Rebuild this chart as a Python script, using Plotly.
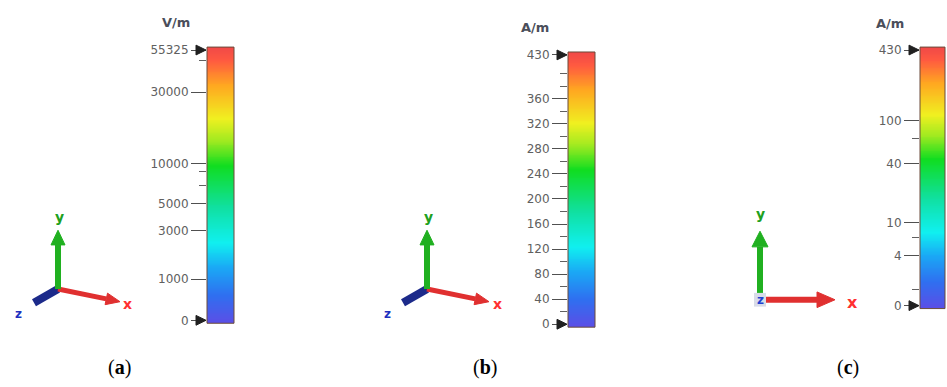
import numpy as np
import plotly.graph_objects as go

W, H = 947, 387

# ---- data ----
units = ["V/m", "A/m", "A/m"]
captions = ["a", "b", "c"]

ticks_a = [0, 1000, 3000, 5000, 10000, 30000, 55325]
pos_a = [0.0, 0.152, 0.333, 0.431, 0.58, 0.844, 1.0]
minor_a = [0.5, 0.55, 0.96]

ticks_b = [0, 40, 80, 120, 160, 200, 240, 280, 320, 360, 430]
minor_b = [20, 60, 100, 140, 180, 220, 260, 300, 340, 380, 400]

ticks_c = [0, 4, 10, 40, 100, 430]
pos_c = [0.0, 0.195, 0.326, 0.556, 0.724, 1.0]
minor_c = [0.065, 0.268, 0.655]

rainbow = [[0.0, "#5b4ee6"], [0.1, "#2f6ff0"], [0.2, "#1aa8f5"], [0.29, "#10f0f0"],
           [0.42, "#10e0a0"], [0.57, "#10dd20"], [0.66, "#a0ea20"], [0.74, "#f0f020"],
           [0.86, "#ffa820"], [0.95, "#ff5a40"], [1.0, "#f04848"]]

# ---- layout geometry (pixels) ----
bars = [
    dict(x0=207, x1=234, ytop=47, ybot=323, title=(176, 19)),
    dict(x0=568, x1=595, ytop=52, ybot=327, title=(535, 24)),
    dict(x0=920, x1=945, ytop=47, ybot=308, title=(890, 20)),
]
pad = 3

def px(x):
    return x / W

def py(y):
    return 1 - y / H

fig = go.Figure()
layout = dict(width=W, height=H, margin=dict(l=0, r=0, t=0, b=0),
              paper_bgcolor="white", plot_bgcolor="white", showlegend=False)

panel_ticks = [(pos_a, ticks_a, minor_a, (0, 1)),
               (ticks_b, ticks_b, minor_b, (0, 430)),
               (pos_c, ticks_c, minor_c, (0, 1))]

shapes = []
annotations = []

def text(t, x, y, font):
    annotations.append(dict(text=t, x=px(x), y=py(y), xref="paper", yref="paper",
                            xanchor="center", yanchor="middle", showarrow=False, font=font))

for i, (b, (tv, tt, mv, rng)) in enumerate(zip(bars, panel_ticks)):
    n = "" if i == 0 else str(i + 1)
    lo, hi = rng
    span = hi - lo
    plen = b["ybot"] - b["ytop"]
    ext = span * pad / plen
    yv = np.linspace(lo - ext, hi + ext, 300)
    frac = (yv - (lo - ext)) / (span + 2 * ext)
    fig.add_trace(go.Heatmap(z=frac.reshape(-1, 1), x=[0], y=yv, colorscale=rainbow,
                             showscale=False, zmin=0, zmax=1, hoverinfo="skip",
                             xaxis="x" + n, yaxis="y" + n))
    layout["xaxis" + n] = dict(domain=[px(b["x0"]), px(b["x1"])], range=[-0.5, 0.5],
                               visible=False, anchor="y" + n)
    layout["yaxis" + n] = dict(domain=[py(b["ybot"] + pad), py(b["ytop"] - pad)],
                               range=[lo - ext, hi + ext], anchor="x" + n,
                               tickmode="array", tickvals=tv, ticktext=[str(t) for t in tt],
                               ticks="outside", ticklen=15, tickwidth=1, tickcolor="#505050",
                               showgrid=False, zeroline=False, showline=False,
                               tickfont=dict(family="DejaVu Sans", size=12, color="#606060"),
                               minor=dict(tickvals=mv, ticks="outside", ticklen=7,
                                          tickcolor="#606060", tickwidth=1))
    # border
    shapes.append(dict(type="rect", xref="paper", yref="paper",
                       x0=px(b["x0"]), x1=px(b["x1"]),
                       y0=py(b["ybot"] + pad), y1=py(b["ytop"] - pad),
                       line=dict(color="#6a4a3a", width=1)))
    # end arrows
    for yy in (b["ytop"], b["ybot"]):
        tip = b["x0"] - 1
        path = (f"M {px(tip - 10)} {py(yy - 5)} L {px(tip)} {py(yy)} "
                f"L {px(tip - 10)} {py(yy + 5)} Z")
        shapes.append(dict(type="path", xref="paper", yref="paper", path=path,
                           fillcolor="#202020", line=dict(color="#202020", width=1)))
    text(f"<b>{units[i]}</b>", b["title"][0], b["title"][1],
         dict(family="DejaVu Sans", size=13, color="#4a4e5a"))

# captions
for cx, c in zip([119, 485, 848], captions):
    text(f"(<b>{c}</b>)", cx, 371, dict(family="Liberation Serif", size=20, color="black"))

# ---- axis triads (decoration) ----
def arrow(x0, y0, x1, y1, color, width=6, head=True, hl=14, hw=7):
    dx, dy = x1 - x0, y1 - y0
    L = (dx * dx + dy * dy) ** 0.5
    ux, uy = dx / L, dy / L
    nx, ny = -uy, ux
    bx, by = (x1 - ux * hl, y1 - uy * hl) if head else (x1, y1)
    shapes.append(dict(type="line", xref="paper", yref="paper",
                       x0=px(x0), y0=py(y0), x1=px(bx), y1=py(by),
                       line=dict(color=color, width=width)))
    if head:
        p = (f"M {px(bx + nx * hw)} {py(by + ny * hw)} L {px(x1)} {py(y1)} "
             f"L {px(bx - nx * hw)} {py(by - ny * hw)} Z")
        shapes.append(dict(type="path", xref="paper", yref="paper", path=p,
                           fillcolor=color, line=dict(color=color, width=1)))

def label(t, x, y, color, size=14):
    text(f"<b>{t}</b>", x, y, dict(family="DejaVu Sans", size=size, color=color))

for ox, oy in [(58, 291), (427, 291)]:
    arrow(ox, oy, ox - 24, oy + 14, "#1c2a8a", width=8, head=False)
    arrow(ox, oy, ox + 62, oy + 13, "#e03030", width=5, hl=14, hw=6)
    arrow(ox, oy, ox, oy - 60, "#20b020", width=6, hl=15, hw=7)
    label("y", ox + 1, oy - 73, "#20a020")
    label("x", ox + 70, oy + 15, "#ff3030")
    label("z", ox - 40, oy + 26, "#2030c0", size=12)

ox, oy = 760, 302
arrow(ox, oy, ox + 75, oy, "#e03030", width=6, hl=18, hw=8)
arrow(ox, oy, ox, oy - 70, "#20b020", width=6, hl=16, hw=8)
shapes.append(dict(type="rect", xref="paper", yref="paper", x0=px(ox - 6), x1=px(ox + 6),
                   y0=py(oy + 7), y1=py(oy - 7), fillcolor="#d8dce8", line=dict(width=0)))
label("z", ox, oy, "#2040d0", size=12)
label("y", ox, oy - 88, "#20a020")
label("x", ox + 92, oy + 3, "#ff3030", size=16)

layout["shapes"] = shapes
layout["annotations"] = annotations
fig.update_layout(**layout)
fig.write_html("out.html")
